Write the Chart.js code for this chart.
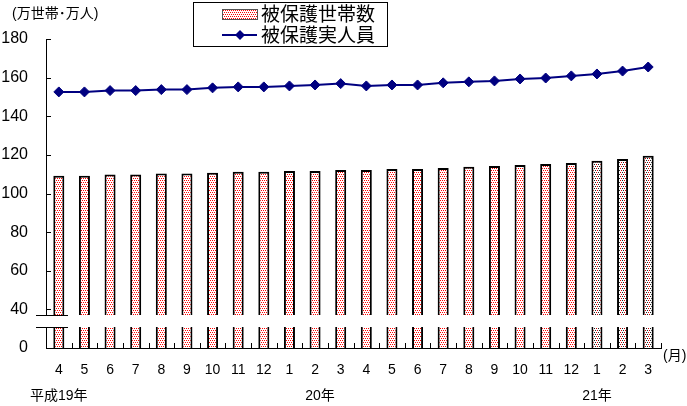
<!DOCTYPE html>
<html lang="ja">
<head>
<meta charset="utf-8">
<title>被保護世帯数・被保護実人員</title>
<script src="https://cdn.jsdelivr.net/npm/chart.js@4/dist/chart.umd.min.js"></script>
<style>
  html, body { margin: 0; padding: 0; background: #fff; }
</style>
</head>
<body>
<canvas id="welfareChart" width="687" height="406"></canvas>
<script>
// 月（平成19年4月 〜 平成21年3月）
const months = ['4','5','6','7','8','9','10','11','12','1','2','3','4','5','6','7','8','9','10','11','12','1','2','3'];

// 年の見出しと、その下に置く月の位置
const yearLabels = ['平成19年', '20年', '21年'];
const yearIndex = [0, 10, 21];

// 被保護世帯数（万世帯）
const households = [109.2, 109.2, 109.8, 109.8, 110.3, 110.3, 110.8, 111.3, 111.3, 111.7, 111.7, 112.2,
                    112.2, 112.7, 112.7, 113.2, 113.8, 114.3, 114.8, 115.3, 115.8, 116.9, 117.9, 119.5];

// 被保護実人員（万人）
const persons = [152.6, 152.6, 153.3, 153.3, 153.8, 153.8, 154.7, 155.2, 155.2, 155.7, 156.2, 156.9,
                 155.7, 156.2, 156.2, 157.3, 157.8, 158.3, 159.3, 159.8, 160.9, 161.9, 163.4, 165.5];

// y軸の目盛
const yTicks = [0, 40, 60, 80, 100, 120, 140, 160, 180];

// 0〜40 を縮めて描く（軸の省略）
function toAxis(v) {
    return v >= 40 ? v - 20 : v / 2;
}
function fromAxis(a) {
    return a >= 20 ? a + 20 : a * 2;
}

// 21年1月以降は色を変える
const shadeFrom = 21;

function makeDots(c1, c2) {
    var c = document.createElement('canvas');
    c.width = 4;
    c.height = 4;
    var g = c.getContext('2d');
    g.fillStyle = '#fff';
    g.fillRect(0, 0, 4, 4);
    g.fillStyle = c1;
    g.fillRect(0, 0, 1, 1);
    g.fillRect(1, 2, 1, 1);
    g.fillStyle = c2;
    g.fillRect(2, 0, 1, 1);
    g.fillRect(3, 2, 1, 1);
    return g.createPattern(c, 'repeat');
}

const redDots = makeDots('#ff0000', '#ff0000');
const darkDots = makeDots('#cc0000', '#202020');

const jpFont = '"Noto Sans CJK JP", sans-serif';
const numFont = '"Liberation Sans", "Noto Sans CJK JP", sans-serif';

var decorPlugin = {
    id: 'decor',
    afterDraw: function(chart) {
        var ctx = chart.ctx;
        var area = chart.chartArea;
        var x = chart.scales.x;
        var y = chart.scales.y;
        ctx.save();
        ctx.strokeStyle = '#000';
        ctx.lineWidth = 1;

        // y目盛（内向き）
        y.ticks.forEach(function(t) {
            var py = Math.round(y.getPixelForValue(t.value)) + 0.5;
            ctx.beginPath();
            ctx.moveTo(area.left, py);
            ctx.lineTo(area.left + 5, py);
            ctx.stroke();
        });

        // x目盛（区切り位置、内向き）
        var step = (area.right - area.left) / months.length;
        for (var k = 0; k <= months.length; k++) {
            var px = Math.round(area.left + k * step) + 0.5;
            ctx.beginPath();
            ctx.moveTo(px, area.bottom);
            ctx.lineTo(px, area.bottom - 5);
            ctx.stroke();
        }

        // 軸の省略記号
        var bTop = Math.round(y.getPixelForValue(17));
        var bBot = Math.round(y.getPixelForValue(11));
        ctx.fillStyle = '#fff';
        ctx.fillRect(area.left - 12, bTop, area.right - area.left + 14, bBot - bTop);
        ctx.beginPath();
        ctx.moveTo(area.left - 10, bTop + 0.5);
        ctx.lineTo(area.left + 22, bTop + 0.5);
        ctx.moveTo(area.left - 10, bBot + 0.5);
        ctx.lineTo(area.left + 22, bBot + 0.5);
        ctx.stroke();

        // 単位など
        ctx.fillStyle = '#000';
        ctx.textBaseline = 'middle';
        ctx.textAlign = 'left';
        ctx.font = '14px ' + numFont;
        ctx.fillText('(万世帯･万人)', 12, 14);
        ctx.fillText('(月)', 663, 356);

        ctx.textAlign = 'center';
        for (var i = 0; i < yearLabels.length; i++) {
            var cx = x.getPixelForValue(yearIndex[i]);
            if (i == 1) cx += 5;
            ctx.fillText(yearLabels[i], cx, 396);
        }

        // 凡例
        ctx.strokeStyle = '#000';
        ctx.strokeRect(193.5, 2.5, 194, 44);

        ctx.fillStyle = redDots;
        ctx.fillRect(223, 10, 34, 9);
        ctx.strokeStyle = '#555';
        ctx.strokeRect(222.5, 9.5, 35, 10);

        ctx.strokeStyle = '#000080';
        ctx.lineWidth = 2;
        ctx.beginPath();
        ctx.moveTo(222, 35);
        ctx.lineTo(257, 35);
        ctx.stroke();
        ctx.fillStyle = '#000080';
        ctx.beginPath();
        ctx.moveTo(240, 30);
        ctx.lineTo(245, 35);
        ctx.lineTo(240, 40);
        ctx.lineTo(235, 35);
        ctx.closePath();
        ctx.fill();

        ctx.fillStyle = '#000';
        ctx.textAlign = 'left';
        ctx.font = '19px ' + jpFont;
        ctx.fillText('被保護世帯数', 261, 14);
        ctx.fillText('被保護実人員', 261, 35);
        ctx.restore();
    }
};

var barColors = households.map(function(v, i) {
    return i >= shadeFrom ? darkDots : redDots;
});

var config = {
    type: 'bar',
    data: {
        labels: months,
        datasets: [{
            type: 'line',
            label: '被保護実人員',
            data: persons.map(toAxis),
            borderColor: '#000080',
            backgroundColor: '#000080',
            borderWidth: 2,
            tension: 0,
            pointStyle: 'rectRot',
            pointRadius: 5,
            pointBorderWidth: 1,
            order: 0
        }, {
            type: 'bar',
            label: '被保護世帯数',
            data: households.map(toAxis),
            backgroundColor: barColors,
            borderColor: '#000',
            borderWidth: 2,
            categoryPercentage: 1,
            barPercentage: 0.43,
            order: 1
        }]
    },
    plugins: [decorPlugin],
    options: {
        responsive: false,
        animation: false,
        layout: {
            padding: { top: 39, right: 26, left: 0, bottom: 0 }
        },
        plugins: {
            legend: { display: false },
            tooltip: { enabled: false }
        },
        scales: {
            x: {
                grid: { display: false, drawTicks: false },
                border: { display: true, color: '#000', width: 1 },
                ticks: {
                    color: '#000',
                    autoSkip: false,
                    maxRotation: 0,
                    padding: 14,
                    font: { family: numFont, size: 14 }
                },
                afterFit: function(scale) { scale.height = 58; }
            },
            y: {
                min: 0,
                max: 160,
                grid: { display: false, drawTicks: false },
                border: { display: true, color: '#000', width: 1 },
                afterBuildTicks: function(scale) {
                    scale.ticks = yTicks.map(function(v) { return { value: toAxis(v) }; });
                },
                ticks: {
                    color: '#000',
                    padding: 18,
                    font: { family: numFont, size: 16 },
                    callback: function(value) { return fromAxis(value); }
                },
                afterFit: function(scale) { scale.width = 46; }
            }
        }
    }
};

window.onload = function() {
    var ctx = document.getElementById('welfareChart').getContext('2d');
    window.welfareChart = new Chart(ctx, config);
};
</script>
</body>
</html>
